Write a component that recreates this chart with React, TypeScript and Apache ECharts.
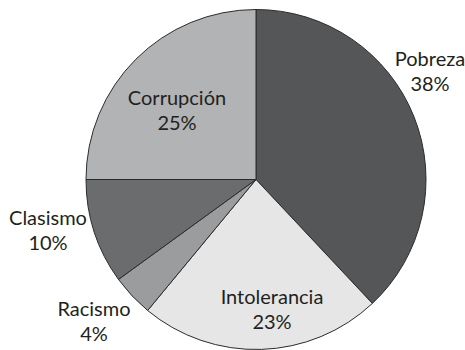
import React, { useEffect, useRef } from "react";
import * as echarts from "echarts";

const categories = ["Pobreza", "Intolerancia", "Racismo", "Clasismo", "Corrupción"];
const values = [38, 23, 4, 10, 25];
const colors = ["#555658", "#e6e6e7", "#9b9c9e", "#6b6c6e", "#b2b3b5"];
// label block centres (pixels) per category
const labelPos: Record<string, [number, number]> = {
  "Pobreza": [430, 70],
  "Intolerancia": [272, 308],
  "Racismo": [94, 320],
  "Clasismo": [48, 229],
  "Corrupción": [177, 109],
};

export default function App() {
  const ref = useRef<HTMLDivElement>(null);
  useEffect(() => {
    const chart = echarts.init(ref.current!, null, { renderer: "svg" });
    chart.setOption({
      animation: false,
      backgroundColor: "#ffffff",
      series: [
        {
          type: "pie",
          center: [256, 179.5],
          radius: [0, 170],
          startAngle: 90,
          clockwise: true,
          data: categories.map((c, i) => ({
            name: c,
            value: values[i],
            itemStyle: { color: colors[i] },
          })),
          itemStyle: { borderColor: "#2b2b2b", borderWidth: 1 },
          label: {
            show: true,
            position: "inside",
            formatter: (p: any) => `${p.name}\n${p.value}%`,
            fontFamily: "Lato",
            fontSize: 20,
            lineHeight: 25,
            color: "#231f20",
            align: "center",
            verticalAlign: "middle",
          },
          labelLine: { show: false },
          labelLayout: (p: any) => {
            const pos = labelPos[categories[p.dataIndex]];
            return { x: pos[0], y: pos[1], align: "center", verticalAlign: "middle" };
          },
          emphasis: { disabled: true },
        },
      ],
    });
    return () => chart.dispose();
  }, []);
  return (
    <div
      ref={ref}
      style={{ position: "fixed", left: 0, top: 0, width: 465, height: 350 }}
    />
  );
}
